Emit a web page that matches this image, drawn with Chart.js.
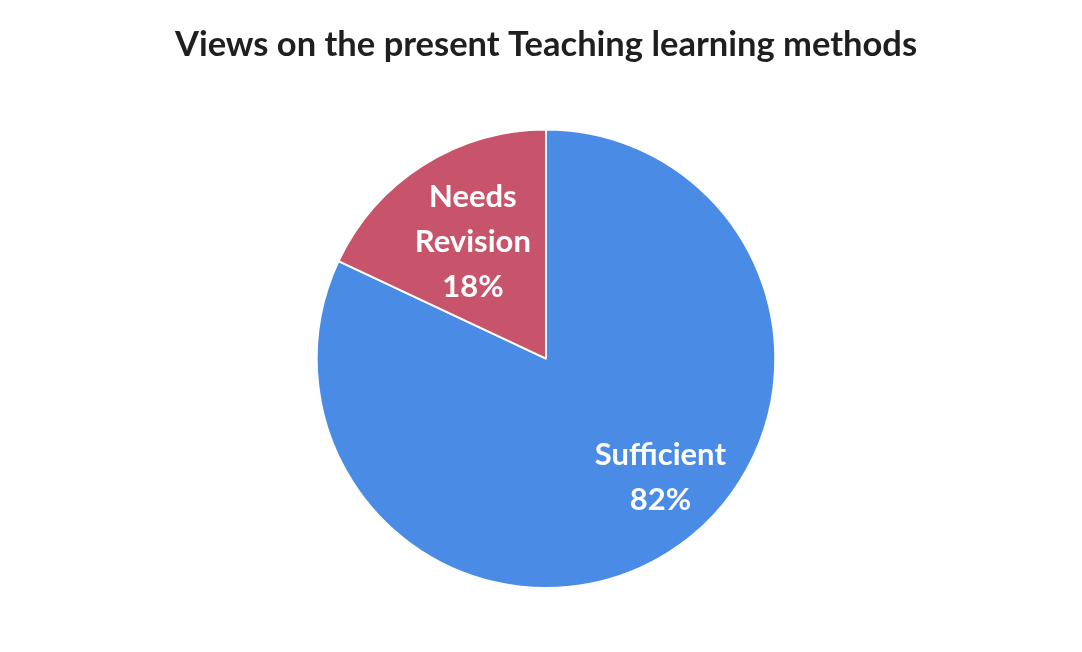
<!DOCTYPE html>
<html>
<head>
<meta charset="utf-8">
<script src="https://cdn.jsdelivr.net/npm/chart.js@4/dist/chart.umd.min.js"></script>
<style>
  html, body { margin: 0; padding: 0; background: #ffffff; }
  #wrap { width: 1082px; height: 652px; }
</style>
</head>
<body>
<div id="wrap"><canvas id="c" width="1082" height="652"></canvas></div>
<script>
const categories = ['Sufficient', 'Needs Revision'];
const shares = [82, 18];
const sliceColors = ['#4a8be6', '#c8546b'];
const chartTitle = 'Views on the present Teaching learning methods';

// Draws "name / percent" inside each slice, anchored on the arc geometry.
const sliceLabels = {
  id: 'sliceLabels',
  afterDatasetsDraw(chart, args, opts) {
    const ctx = chart.ctx;
    const meta = chart.getDatasetMeta(0);
    ctx.save();
    ctx.fillStyle = '#ffffff';
    ctx.textAlign = 'center';
    ctx.textBaseline = 'middle';
    ctx.font = opts.font;
    meta.data.forEach((arc, i) => {
      const p = arc.getProps(['x', 'y', 'startAngle', 'endAngle', 'outerRadius']);
      const mid = (p.startAngle + p.endAngle) / 2 + (opts.angleShift[i] || 0);
      const r = p.outerRadius * opts.radiusFactor[i];
      const cx = p.x + Math.cos(mid) * r;
      const cy = p.y + Math.sin(mid) * r;
      const words = categories[i].split(' ');
      const lines = words.concat([shares[i] + '%']);
      const lh = opts.lineHeight;
      const top = cy - (lines.length - 1) * lh / 2;
      lines.forEach((t, k) => ctx.fillText(t, cx, top + k * lh));
    });
    ctx.restore();
  }
};

new Chart(document.getElementById('c'), {
  type: 'pie',
  data: {
    labels: categories,
    datasets: [{
      data: shares,
      backgroundColor: sliceColors,
      borderColor: '#ffffff',
      borderWidth: 2
    }]
  },
  options: {
    responsive: false,
    animation: false,
    events: [],
    layout: { padding: { top: 24, bottom: 63, left: 10, right: 0 } },
    plugins: {
      legend: { display: false },
      tooltip: { enabled: false },
      title: {
        display: true,
        text: chartTitle,
        color: '#1f1f1f',
        font: { family: 'Lato', size: 34.5, weight: 'bold' },
        padding: { top: 0, bottom: 63 }
      },
      sliceLabels: {
        font: 'bold 31px Lato',
        lineHeight: 45,
        radiusFactor: [0.72, 0.6],
        angleShift: [-0.2, 0.005]
      }
    }
  },
  plugins: [sliceLabels]
});
</script>
</body>
</html>
